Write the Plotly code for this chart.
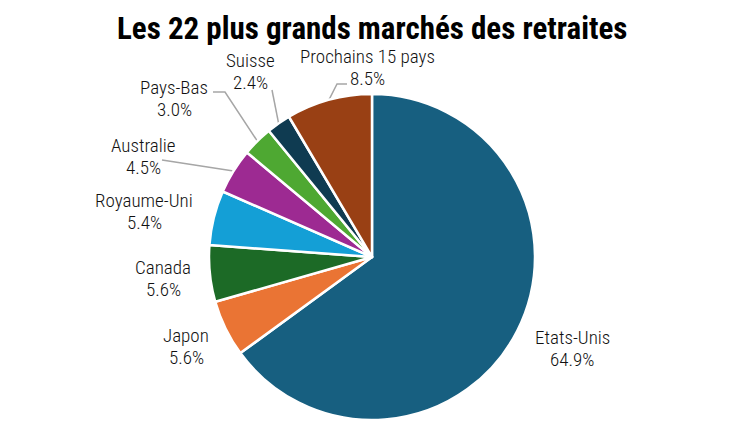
import numpy as np
import plotly.graph_objects as go

W, H = 745, 432
OFF = 8  # page body margin in the browser shot

countries = ["Etats-Unis", "Japon", "Canada", "Royaume-Uni", "Australie",
             "Pays-Bas", "Suisse", "Prochains 15 pays"]
shares = [64.9, 5.6, 5.6, 5.4, 4.5, 3.0, 2.4, 8.5]
colors = ["#175f80", "#ea7434", "#1c6a26", "#149fd6", "#9d2a92",
          "#4ea832", "#0f3b51", "#994014"]

# layout of the pie in screen pixels
cx, cy, r = 372, 257, 163
# label block centres (pixels) and leader-line elbows
label_pos = [(572, 348), (186, 346), (163, 278), (144, 211), (143, 156),
             (174, 98), (250, 71), (367, 67)]
line_gap = 22
leaders = {
    4: [(162, 160)],
    5: [(225, 92), (213, 92)],
    6: [(272, 90)],
    7: [(337, 84), (347, 84)],
}

font = "Roboto Condensed, Liberation Sans Narrow, DejaVu Sans Condensed, sans-serif"

fig = go.Figure()
fx0, fy0 = cx - OFF, cy - OFF
fig.add_pie(
    labels=countries,
    values=shares,
    sort=False,
    direction="clockwise",
    rotation=0,
    marker=dict(colors=colors, line=dict(color="white", width=2.5)),
    textinfo="none",
    hoverinfo="label+percent",
    showlegend=False,
    domain=dict(x=[(fx0 - r) / W, (fx0 + r) / W], y=[(H - fy0 - r) / H, (H - fy0 + r) / H]),
)

# leader lines from the middle of each slice edge
cum = np.cumsum([0] + shares[:-1])
total = sum(shares)
for i, pts in leaders.items():
    ang = np.deg2rad((cum[i] + shares[i] / 2) / total * 360)
    ex, ey = cx + r * np.sin(ang), cy - r * np.cos(ang)
    xs = [ex] + [p[0] for p in pts]
    ys = [ey] + [p[1] for p in pts]
    fig.add_scatter(x=xs, y=ys, mode="lines", line=dict(color="#a6a6a6", width=1.5),
                    hoverinfo="skip", showlegend=False)

lab_font = dict(family=font, size=19, color="#111111", weight=300)
for name, val, (lx, ly) in zip(countries, shares, label_pos):
    fig.add_annotation(x=lx, y=ly - line_gap / 2, text=name, showarrow=False,
                       xref="x", yref="y", font=lab_font)
    fig.add_annotation(x=lx, y=ly + line_gap / 2, text=f"{val:.1f}%", showarrow=False,
                       xref="x", yref="y", font=lab_font)

fig.add_annotation(x=372, y=OFF + 1, yanchor="top", borderpad=0,
                   text="<b>Les 22 plus grands marchés des retraites</b>",
                   showarrow=False, xref="x", yref="y",
                   font=dict(family=font, size=31, color="black"))

fig.update_layout(
    width=W, height=H,
    margin=dict(l=0, r=0, t=0, b=0),
    paper_bgcolor="white", plot_bgcolor="rgba(0,0,0,0)",
    xaxis=dict(range=[OFF, W + OFF], visible=False, fixedrange=True),
    yaxis=dict(range=[H + OFF, OFF], visible=False, fixedrange=True),
)

fig.write_html("out.html")
